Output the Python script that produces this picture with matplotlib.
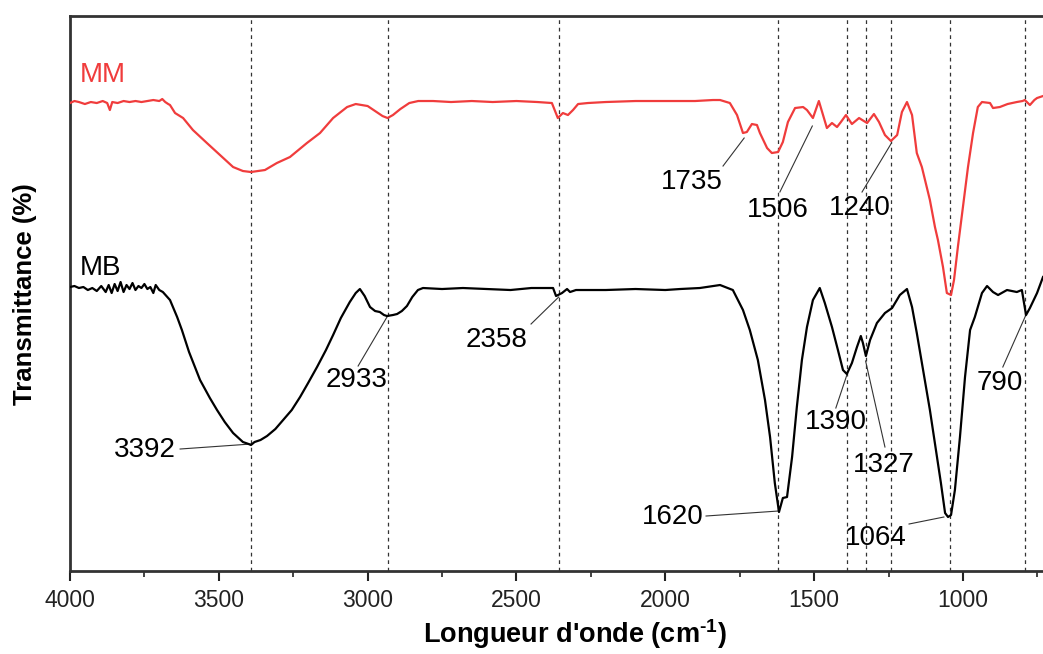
import matplotlib
matplotlib.use("Agg")
import matplotlib.pyplot as plt
from matplotlib.ticker import MultipleLocator

plt.rcParams['font.family'] = ['Liberation Sans', 'DejaVu Sans']
plt.rcParams['mathtext.fontset'] = 'custom'
plt.rcParams['mathtext.rm'] = 'Liberation Sans:bold'
plt.rcParams['mathtext.bf'] = 'Liberation Sans:bold'

# FTIR spectra: wavenumber (cm-1) and transmittance (arbitrary offset, %)
mm_wavenumber = [
    4000, 3985, 3970, 3950, 3930, 3910, 3890, 3875, 3866, 3858, 3840, 3820, 3800,
    3780, 3760, 3740, 3720, 3700, 3690, 3680, 3670, 3664, 3647, 3620, 3587, 3540,
    3496, 3452, 3419, 3392, 3345, 3305, 3261, 3204, 3160, 3116, 3069, 3040, 3000,
    2970, 2950, 2933, 2915, 2890, 2860, 2830, 2780, 2720, 2650, 2580, 2500, 2430,
    2381, 2361, 2344, 2327, 2310, 2293, 2260, 2200, 2100, 2000, 1900, 1840, 1816,
    1783, 1759, 1739, 1726, 1709, 1692, 1682, 1658, 1642, 1621, 1605, 1588, 1564,
    1537, 1524, 1504, 1484, 1470, 1457, 1440, 1423, 1410, 1393, 1373, 1349, 1322,
    1299, 1282, 1262, 1242, 1221, 1205, 1188, 1171, 1155, 1138, 1111, 1094, 1084,
    1067, 1054, 1040, 1030, 1017, 1000, 983, 966, 950, 936, 909, 899, 876, 850,
    819, 800, 792, 775, 760, 751, 741, 731,
]
mm_transmittance = [
    93.6, 94.0, 93.8, 93.4, 93.8, 93.6, 94.0, 93.6, 92.2, 93.8, 93.6, 94.0, 93.8,
    94.0, 93.8, 94.0, 94.2, 94.0, 94.4, 93.8, 93.4, 93.2, 91.6, 90.6, 88.2, 85.6,
    83.2, 80.8, 80.0, 79.8, 80.2, 81.6, 82.8, 85.6, 87.6, 90.6, 92.8, 93.4, 93.0,
    91.8, 91.0, 90.6, 91.2, 92.4, 93.6, 94.0, 94.0, 93.8, 94.0, 93.8, 94.0, 93.8,
    93.6, 90.6, 91.6, 91.2, 92.2, 93.4, 93.6, 93.8, 94.0, 94.0, 94.0, 94.2, 94.2,
    93.6, 91.2, 87.6, 87.8, 89.4, 89.2, 87.6, 84.6, 83.6, 83.8, 85.8, 89.8, 92.6,
    92.8, 92.2, 90.6, 94.0, 91.2, 88.6, 89.6, 88.8, 89.8, 91.2, 89.4, 90.6, 89.6,
    91.4, 89.8, 87.2, 86.0, 87.2, 91.8, 93.8, 91.2, 83.6, 80.8, 74.2, 68.8, 66.2,
    60.8, 55.6, 55.2, 58.2, 64.8, 72.8, 80.8, 87.6, 92.8, 93.8, 93.6, 92.6, 92.8,
    93.4, 93.8, 94.0, 94.2, 93.2, 94.2, 94.6, 94.8, 95.0,
]

mb_wavenumber = [
    4000, 3985, 3970, 3955, 3940, 3925, 3910, 3895, 3880, 3870, 3860, 3850, 3840,
    3830, 3820, 3810, 3800, 3790, 3780, 3770, 3760, 3750, 3740, 3730, 3720, 3712,
    3700, 3688, 3664, 3640, 3624, 3600, 3563, 3530, 3506, 3480, 3452, 3419, 3400,
    3392, 3380, 3360, 3338, 3310, 3284, 3255, 3227, 3200, 3170, 3140, 3116, 3090,
    3060, 3040, 3026, 3010, 2992, 2975, 2959, 2945, 2935, 2915, 2901, 2885, 2868,
    2850, 2831, 2814, 2750, 2680, 2600, 2520, 2450, 2377, 2367, 2347, 2330, 2320,
    2300, 2200, 2100, 2000, 1950, 1884, 1816, 1773, 1739, 1716, 1689, 1665, 1648,
    1632, 1618, 1605, 1591, 1574, 1558, 1541, 1524, 1504, 1481, 1464, 1440, 1420,
    1403, 1390, 1373, 1356, 1343, 1336, 1326, 1312, 1289, 1262, 1238, 1212, 1188,
    1171, 1155, 1134, 1111, 1087, 1074, 1060, 1050, 1040, 1027, 1010, 993, 976,
    960, 936, 919, 899, 882, 852, 819, 802, 788, 775, 751, 731,
]
mb_transmittance = [
    56.8, 57.0, 56.6, 56.8, 56.2, 56.6, 56.0, 57.0, 55.8, 57.2, 55.6, 57.4, 56.0,
    57.8, 55.8, 57.2, 56.4, 57.6, 56.2, 57.0, 56.6, 57.4, 56.4, 56.8, 55.6, 57.2,
    56.2, 55.8, 54.2, 50.8, 48.2, 43.8, 38.2, 34.6, 32.2, 29.8, 27.6, 25.8, 25.4,
    25.2, 25.8, 26.2, 27.0, 28.4, 30.2, 32.2, 34.8, 37.6, 40.8, 44.2, 47.2, 50.6,
    53.8, 55.6, 56.4, 55.0, 52.8, 52.0, 51.8, 51.2, 51.0, 51.2, 51.4, 52.0, 53.0,
    54.8, 56.2, 56.6, 56.4, 56.6, 56.4, 56.2, 56.6, 56.6, 55.0, 55.6, 56.4, 55.8,
    56.2, 56.2, 56.4, 56.2, 56.4, 56.6, 57.2, 56.2, 52.2, 48.2, 42.2, 34.2, 26.8,
    17.6, 11.8, 14.6, 14.8, 22.8, 32.8, 42.2, 48.8, 54.2, 56.6, 53.6, 48.8, 44.2,
    40.2, 39.4, 41.6, 44.8, 47.0, 45.6, 43.0, 46.2, 49.6, 51.6, 52.6, 55.2, 56.4,
    52.8, 47.6, 40.2, 32.2, 22.8, 17.6, 11.6, 10.8, 11.2, 16.2, 26.8, 38.8, 48.2,
    50.8, 55.6, 57.0, 55.8, 55.2, 56.2, 55.8, 56.2, 51.2, 52.6, 55.6, 58.8,
]

# Band positions marked with vertical guides
guide_lines = [3392, 2933, 2358, 1620, 1390, 1327, 1240, 1045, 790]

# Peak labels with their leader lines
peak_labels = ["1735", "1506", "1240", "3392", "2933", "2358", "1620", "1390", "1327", "1064", "790"]
peak_pos = [1735, 1506, 1240, 3392, 2933, 2358, 1620, 1390, 1327, 1064, 790]
peak_t = [86.6, 89.0, 85.6, 25.4, 51.0, 54.8, 12.0, 39.2, 42.0, 10.8, 51.0]
label_x = [1910, 1622, 1346, 3748, 3036, 2566, 1974, 1427, 1265, 1292, 876]
label_y = [77.8, 72.2, 72.6, 24.2, 38.2, 46.2, 10.8, 29.8, 21.2, 6.6, 37.6]
leader_x = [1806, 1615, 1339, 3630, 3032, 2451, 1863, 1427, 1262, 1181, 866]
leader_y = [81.0, 75.8, 75.8, 24.4, 41.0, 49.4, 11.0, 32.6, 24.8, 9.4, 40.8]

fig = plt.figure(figsize=(10.43, 6.54), dpi=100)
ax = fig.add_axes([0.0671, 0.1269, 0.9329, 0.8486])

for g in guide_lines:
    ax.axvline(g, color='#333333', lw=0.9, ls=(0, (3, 3)), zorder=1)

ax.plot(mm_wavenumber, mm_transmittance, color='#f03c3c', lw=1.6, zorder=3)
ax.plot(mb_wavenumber, mb_transmittance, color='black', lw=1.6, zorder=3)

for lab, px, pt, tx, ty, lx, ly in zip(peak_labels, peak_pos, peak_t,
                                       label_x, label_y, leader_x, leader_y):
    ax.plot([lx, px], [ly, pt], color='#333333', lw=0.8, zorder=2)
    ax.text(tx, ty, lab, fontsize=20, ha='center', va='center', color='black', zorder=4)

ax.text(3889, 99.2, "MM", color='#f03c3c', fontsize=20, ha='center', va='center')
ax.text(3899, 60.6, "MB", color='black', fontsize=20, ha='center', va='center')

ax.set_xlim(4000, 731)
ax.set_ylim(0, 111)
ax.xaxis.set_major_locator(MultipleLocator(500))
ax.xaxis.set_minor_locator(MultipleLocator(250))
ax.set_yticks([])
ax.tick_params(axis='x', which='major', direction='out', length=7, width=1.5,
               labelsize=16.5, colors='#222222', pad=6)
ax.tick_params(axis='x', which='minor', direction='out', length=4, width=1.2,
               colors='#222222')
for side in ('left', 'bottom', 'top'):
    ax.spines[side].set_linewidth(2)
    ax.spines[side].set_color('#333333')
ax.spines['right'].set_visible(False)

fig.text(0.551, 0.03, "Longueur d'onde (cm$^{\\text{-1}}$)", fontsize=19.5,
         fontweight='bold', ha='center', va='center')
fig.text(0.024, 0.551, "Transmittance (%)", fontsize=18.5, fontweight='bold',
         rotation=90, ha='center', va='center')

fig.savefig("out.png", dpi=100)
